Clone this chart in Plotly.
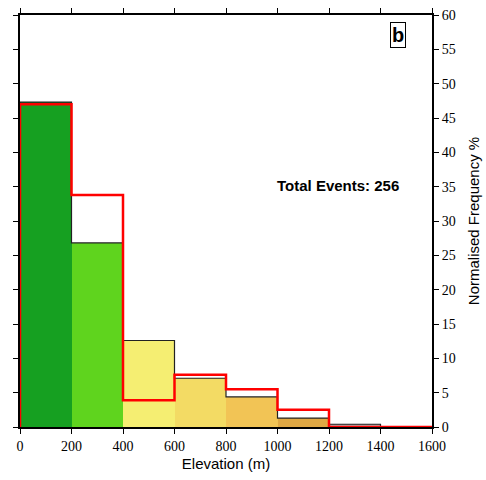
import plotly.graph_objects as go

bin_edges = [0, 200, 400, 600, 800, 1000, 1200, 1400, 1600]
bar_values = [47.3, 26.8, 12.6, 7.1, 4.4, 1.3, 0.4, 0.0]
red_values = [47.0, 33.8, 3.9, 7.6, 5.5, 2.5, 0.0, 0.0]
bar_colors = ["#16a021", "#5fd41e", "#f5ee72", "#f3db64", "#f2c455", "#e0a844", "#b0b0b0", "#ffffff"]
total_events = 256
panel_label = "b"

centers = [(a + b) / 2 for a, b in zip(bin_edges[:-1], bin_edges[1:])]
widths = [b - a for a, b in zip(bin_edges[:-1], bin_edges[1:])]

fig = go.Figure()
fig.add_trace(go.Bar(
    x=centers, y=bar_values, width=widths,
    marker=dict(color=bar_colors, line=dict(width=0)),
    hoverinfo="skip", showlegend=False,
))

sx = [bin_edges[0]] + bin_edges[:-1] + [bin_edges[-1]]
by = [0] + bar_values + [bar_values[-1]]
fig.add_trace(go.Scatter(
    x=sx, y=by, mode="lines", line=dict(color="#222222", width=1.2, shape="hv"),
    hoverinfo="skip", showlegend=False,
))
ry = [0] + red_values + [red_values[-1]]
fig.add_trace(go.Scatter(
    x=sx, y=ry, mode="lines", line=dict(color="#ff0000", width=2.5, shape="hv"),
    hoverinfo="skip", showlegend=False,
))

fig.add_annotation(x=1468, y=57.1, text="<b>%s</b>" % panel_label, showarrow=False,
                   font=dict(family="Liberation Sans", size=20, color="black"),
                   bordercolor="black", borderwidth=1, borderpad=1, bgcolor="white")
fig.add_annotation(x=1233, y=35.1, text="<b>Total Events: %d</b>" % total_events, showarrow=False,
                   font=dict(family="Liberation Sans", size=15, color="black"))

tick_font = dict(family="Times New Roman, Liberation Serif, serif", size=14, color="black")
title_font = dict(family="Liberation Sans", size=15, color="black")

fig.update_layout(
    width=486, height=480,
    margin=dict(l=20, r=54, t=15, b=53, autoexpand=False),
    plot_bgcolor="white", paper_bgcolor="white",
    bargap=0,
    xaxis=dict(range=[0, 1600], tickvals=bin_edges, showgrid=False, zeroline=False,
               showline=True, linecolor="black", linewidth=2, mirror="ticks",
               ticks="outside", ticklen=5, tickcolor="black", tickwidth=1,
               tickfont=tick_font, automargin=False,
               title=dict(text="Elevation (m)", font=title_font, standoff=6)),
    yaxis=dict(range=[0, 60], dtick=5, side="right", showgrid=False, zeroline=False,
               showline=True, linecolor="black", linewidth=2, mirror="ticks",
               ticks="outside", ticklen=5, tickcolor="black", tickwidth=1,
               tickfont=tick_font, automargin=False,
               title=dict(text="Normalised Frequency %", font=title_font, standoff=14)),
)

fig.write_html("out.html", config={"displayModeBar": False},
               post_script="document.body.style.margin='0';document.body.style.padding='0';")
